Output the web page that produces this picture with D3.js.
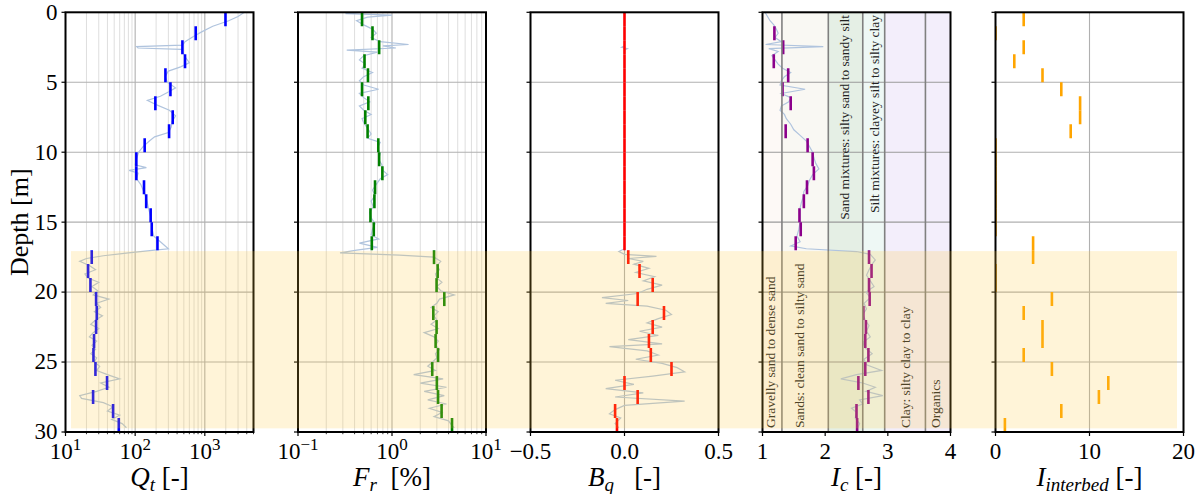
<!DOCTYPE html>
<html>
<head>
<meta charset="utf-8">
<script src="https://cdn.jsdelivr.net/npm/d3@7"></script>
<style>
  body { margin: 0; background: #fff; }
  text { font-family: "Liberation Serif", "DejaVu Serif", serif; fill: #000; }
</style>
</head>
<body>
<div id="chart"></div>
<script>
// depth of the top of every 1 m bin
const binTop = [0,1,2,3,4,5,6,7,8,9,10,11,12,13,14,15,16,17,18,19,20,21,22,23,24,25,26,27,28,29];

// per-meter averages
const qtMean = [1980,740,477,520,272,321,195,346,307,137,104,104,134,144,167,173,209,
  23.8,21.1,22.8,27.5,28.1,27.5,25.7,25.2,26.9,39.5,24.9,48.2,58.2];
const frMean = [0.48,0.62,0.73,0.51,0.555,0.48,0.56,0.52,0.55,0.715,0.73,0.79,0.66,0.65,0.59,0.64,0.61,
  2.8,3.06,2.98,3.6,2.75,2.98,2.91,3.09,2.68,3.0,3.09,3.37,4.35];
const bqMean = [0,0,0,0,0,0,0,0,0,0,0,0,0,0,0,0,0,
  0.02,0.08,0.15,0.07,0.21,0.15,0.13,0.14,0.25,0,0.07,-0.05,-0.04];
const icMean = [null,1.19,1.33,1.18,1.41,1.32,1.45,null,1.37,1.72,1.80,1.82,1.71,1.66,1.59,1.61,1.53,
  2.70,2.74,2.70,2.71,2.61,2.65,2.64,2.69,2.64,2.53,2.69,2.50,2.51];
const ibMean = [3,0,3,2,5,7,9,9,8,0,0,0,0,0,0,0,4,4,0,0,6,3,5,5,3,6,12,11,7,1];

// raw cone traces: [depth, value]
const qtRaw = [[0,3700],[0.3,3000],[0.6,2200],[1.0,1300],[1.4,900],[1.8,650],[2.1,520],[2.35,480],[2.45,105],
  [2.55,110],[2.65,460],[3.0,500],[3.3,540],[3.6,600],[3.9,450],[4.2,300],[4.6,270],[5.0,290],[5.4,380],[5.7,300],
  [6.0,230],[6.3,150],[6.6,200],[7.0,310],[7.4,380],[7.8,340],[8.2,330],[8.6,300],[8.9,190],[9.2,160],[9.6,130],
  [10.0,112],[10.5,104],[10.9,100],[11.1,145],[11.3,82],[11.5,110],[11.9,105],[12.3,120],[12.7,130],[13.1,140],
  [13.5,148],[14.0,155],[14.5,165],[15.0,172],[15.5,175],[16.0,185],[16.4,230],[16.7,270],[16.9,300],[17.0,190],
  [17.2,80],[17.4,35],[17.6,20],[17.8,16],[18.1,22],[18.4,27],[18.7,19],[19.0,21],[19.3,30],[19.6,24],[19.9,29],
  [20.2,25],[20.5,42],[20.8,28],[21.1,32],[21.4,26],[21.7,34],[22.0,27],[22.3,23],[22.6,30],[22.9,25],[23.2,22],
  [23.5,28],[23.8,24],[24.1,27],[24.4,23],[24.7,28],[25.0,26],[25.3,31],[25.6,28],[25.9,40],[26.2,60],[26.5,32],
  [26.8,42],[27.1,28],[27.4,16],[27.6,17],[27.9,35],[28.2,48],[28.5,40],[28.8,60],[29.1,46],[29.4,65],[29.7,75]];
const frRaw = [[0,0.45],[0.1,0.32],[0.2,1.0],[0.35,0.55],[0.6,0.42],[0.9,0.5],[1.2,0.62],[1.5,0.68],[1.8,0.6],
  [2.1,0.75],[2.3,1.5],[2.4,0.8],[2.55,1.1],[2.7,0.33],[2.85,0.7],[3.1,0.5],[3.4,0.45],[3.7,0.52],[4.0,0.48],
  [4.3,0.62],[4.6,0.5],[4.9,0.45],[5.2,0.5],[5.5,0.72],[5.8,0.45],[6.1,0.5],[6.4,0.58],[6.7,0.45],[7.0,0.5],
  [7.3,0.6],[7.6,0.48],[7.9,0.5],[8.3,0.55],[8.7,0.6],[9.0,0.55],[9.3,0.75],[9.7,0.7],[10.1,0.75],[10.5,0.72],
  [10.9,0.78],[11.3,0.8],[11.6,0.9],[11.9,0.75],[12.3,0.68],[12.7,0.62],[13.1,0.66],[13.5,0.6],[13.9,0.63],
  [14.3,0.58],[14.7,0.6],[15.1,0.66],[15.5,0.62],[15.9,0.6],[16.2,0.72],[16.5,0.45],[16.8,0.7],[17.0,0.42],
  [17.2,0.28],[17.35,1.2],[17.5,2.8],[17.8,3.3],[18.1,3.0],[18.4,3.2],[18.7,2.9],[19.0,3.0],[19.3,3.4],[19.6,3.0],
  [19.9,3.3],[20.2,4.6],[20.5,3.2],[20.8,3.0],[21.1,2.6],[21.4,3.1],[21.7,2.8],[22.0,3.0],[22.3,2.6],[22.6,3.1],
  [22.9,2.2],[23.2,2.8],[23.5,3.1],[23.8,2.9],[24.1,3.2],[24.4,2.9],[24.7,3.0],[25.0,2.7],[25.3,2.4],[25.6,2.9],
  [25.9,1.7],[26.2,3.5],[26.5,2.0],[26.8,3.8],[27.1,2.2],[27.4,3.6],[27.7,2.4],[28.0,3.8],[28.3,2.5],[28.6,3.4],
  [28.9,2.8],[29.2,4.0],[29.5,4.3],[29.7,4.6]];
const bqRaw = [[0,0],[2.4,0],[2.5,-0.015],[2.6,0.015],[2.7,0],[16.9,0],[17.1,-0.03],[17.3,0.0],[17.45,0.17],
  [17.6,0.02],[17.8,0.1],[18.0,0.05],[18.3,0.13],[18.6,0.06],[18.9,0.16],[19.2,0.1],[19.5,0.2],[19.8,0.12],
  [20.1,0.07],[20.4,-0.12],[20.6,0.02],[20.8,-0.1],[21.0,0.12],[21.3,0.22],[21.6,0.25],[21.9,0.18],[22.2,0.12],
  [22.5,0.2],[22.8,0.08],[23.1,0.18],[23.4,0.02],[23.7,0.2],[23.9,-0.08],[24.2,0.12],[24.5,0.18],[24.8,0.06],
  [25.1,0.2],[25.4,0.28],[25.7,0.32],[26.0,0.15],[26.3,-0.05],[26.6,0.05],[26.9,-0.1],[27.2,0.1],[27.5,-0.05],
  [27.8,0.32],[28.1,0.0],[28.4,-0.05],[28.7,-0.08],[29.0,-0.02],[29.4,-0.05],[29.7,-0.03]];
const icRaw = [[0,1.04],[0.3,1.08],[0.6,1.12],[0.9,1.18],[1.2,1.22],[1.5,1.25],[1.8,1.2],[2.1,1.3],[2.3,1.05],
  [2.45,1.97],[2.6,1.1],[2.8,1.25],[3.1,1.15],[3.4,1.2],[3.7,1.25],[4.0,1.32],[4.3,1.45],[4.6,1.35],[4.9,1.3],
  [5.2,1.28],[5.5,1.68],[5.8,1.3],[6.1,1.45],[6.4,1.42],[6.7,1.3],[7.0,1.28],[7.3,1.35],[7.6,1.38],[8.0,1.45],
  [8.4,1.5],[8.8,1.6],[9.2,1.7],[9.6,1.75],[10.0,1.8],[10.4,1.82],[10.8,1.85],[11.2,1.9],[11.6,1.8],[12.0,1.75],
  [12.4,1.72],[12.8,1.66],[13.2,1.65],[13.6,1.62],[14.0,1.6],[14.5,1.6],[15.0,1.6],[15.5,1.58],[16.0,1.55],
  [16.4,1.6],[16.7,1.45],[16.9,1.7],[17.1,2.5],[17.3,2.72],[17.7,2.8],[18.0,2.75],[18.4,2.7],[18.8,2.66],
  [19.2,2.72],[19.6,2.78],[20.0,2.65],[20.4,2.72],[20.8,2.62],[21.2,2.66],[21.6,2.6],[22.0,2.64],[22.4,2.7],
  [22.8,2.66],[23.2,2.72],[23.6,2.6],[24.0,2.64],[24.4,2.75],[24.8,2.62],[25.2,2.66],[25.6,2.9],[25.9,2.5],
  [26.2,2.25],[26.5,2.6],[26.8,2.8],[27.1,2.65],[27.4,2.92],[27.7,2.55],[28.0,2.6],[28.3,2.42],[28.6,2.5],
  [29.0,2.48],[29.4,2.55],[29.7,2.52]];

// soil behaviour type zones for Ic
const zoneEdges = [1, 1.31, 2.05, 2.6, 2.95, 3.6, 4];
const zoneColors = ['#fdf9f6', '#f9f8f3', '#e5efe5', '#eef8f5', '#f3eefb', '#f3eefb'];
const zoneLabels = ['Gravelly sand to dense sand', 'Sands: clean sand to silty sand',
  'Sand mixtures: silty sand to sandy silt', 'Silt mixtures: clayey silt to silty clay',
  'Clay: silty clay to clay', 'Organics'];

const depthTicks = [0, 5, 10, 15, 20, 25, 30];

const width = 1199;
const height = 494;
const plotTop = 12.3;
const plotBottom = 432;
const panelLeft = [65.5, 298, 530.5, 762.5, 995.5];
const panelW = 188;

const svg = d3.select('#chart').append('svg')
  .attr('width', width)
  .attr('height', height);

const y = d3.scaleLinear().domain([0, 30]).range([plotTop, plotBottom]);

const nb = '\u00a0';
const panels = [
  {log: true, domain: [10, 5000], raw: qtRaw, mean: qtMean, color: '#0000ff',
   ticks: [10, 100, 1000], label: ['Q', 't', nb + '[-]']},
  {log: true, domain: [0.1, 10], raw: frRaw, mean: frMean, color: '#008000',
   ticks: [0.1, 1, 10], label: ['F', 'r', nb + nb + '[%]']},
  {log: false, domain: [-0.5, 0.5], raw: bqRaw, mean: bqMean, color: '#ff0000',
   ticks: [-0.5, 0, 0.5], grid: [0], fmt: d => d3.format('.1f')(d).replace('-', '\u2212'),
   label: ['B', 'q', nb + nb + nb + '[-]']},
  {log: false, domain: [1, 4], raw: icRaw, mean: icMean, color: '#8b008b',
   ticks: [1, 2, 3, 4], grid: [], fmt: d => d, label: ['I', 'c', nb + '[-]']},
  {log: false, domain: [0, 20], raw: null, mean: ibMean, color: '#ffa500',
   ticks: [0, 10, 20], grid: [10], fmt: d => d, label: ['I', 'interbed', nb + '[-]']}
];

panels.forEach(drawPanel);

function drawPanel(p, i) {
  const x0 = panelLeft[i];
  const x = (p.log ? d3.scaleLog() : d3.scaleLinear())
    .domain(p.domain)
    .range([x0, x0 + panelW]);

  svg.append('clipPath').attr('id', 'clip' + i)
    .append('rect')
    .attr('x', x0).attr('y', plotTop)
    .attr('width', panelW).attr('height', plotBottom - plotTop);

  const g = svg.append('g').attr('clip-path', `url(#clip${i})`);

  // Ic zones background
  if (i === 3) {
    g.selectAll('.zone')
      .data(zoneColors)
      .enter()
      .append('rect')
      .attr('x', (d, k) => x(zoneEdges[k]))
      .attr('width', (d, k) => x(zoneEdges[k + 1]) - x(zoneEdges[k]))
      .attr('y', plotTop)
      .attr('height', plotBottom - plotTop)
      .attr('fill', d => d);
  }

  // vertical grid
  let minor = [];
  let major = [];
  if (p.log) {
    const lo = Math.round(Math.log10(p.domain[0]));
    const hi = Math.ceil(Math.log10(p.domain[1]));
    for (let e = lo; e < hi; e++) {
      for (let k = 1; k <= 9; k++) {
        const v = k * Math.pow(10, e);
        if (v > p.domain[1] + 1e-9) continue;
        if (k === 1) major.push(v); else minor.push(v);
      }
    }
  } else {
    major = p.grid;
  }
  g.selectAll('.minor')
    .data(minor)
    .enter()
    .append('line')
    .attr('x1', d => x(d)).attr('x2', d => x(d))
    .attr('y1', plotTop).attr('y2', plotBottom)
    .attr('stroke', '#dadada').attr('stroke-width', 0.9);
  g.selectAll('.major')
    .data(major)
    .enter()
    .append('line')
    .attr('x1', d => x(d)).attr('x2', d => x(d))
    .attr('y1', plotTop).attr('y2', plotBottom)
    .attr('stroke', '#b0b0b0').attr('stroke-width', 1.1);

  // horizontal grid
  g.selectAll('.hgrid')
    .data(depthTicks)
    .enter()
    .append('line')
    .attr('x1', x0).attr('x2', x0 + panelW)
    .attr('y1', d => y(d)).attr('y2', d => y(d))
    .attr('stroke', i === 3 ? '#9a9a9a' : '#b0b0b0').attr('stroke-width', 1.1);

  // raw trace
  if (p.raw) {
    const line = d3.line()
      .x(d => x(d[1]))
      .y(d => y(d[0]));
    g.append('path')
      .attr('d', line(p.raw))
      .attr('fill', 'none')
      .attr('stroke', '#b0c4de')
      .attr('stroke-width', 1.2);
  }

  // 1 m averages
  const segs = binTop.map((d, k) => ({top: d, v: p.mean[k]})).filter(d => d.v !== null);
  g.selectAll('.seg')
    .data(segs)
    .enter()
    .append('line')
    .attr('x1', d => x(d.v)).attr('x2', d => x(d.v))
    .attr('y1', d => y(d.top)).attr('y2', d => y(d.top + 1))
    .attr('stroke', p.color)
    .attr('stroke-width', 2.6);

  // Ic zone boundaries and labels
  if (i === 3) {
    g.selectAll('.edge')
      .data(zoneEdges.slice(1, -1))
      .enter()
      .append('line')
      .attr('x1', d => x(d)).attr('x2', d => x(d))
      .attr('y1', plotTop).attr('y2', plotBottom)
      .attr('stroke', '#808080').attr('stroke-width', 1.6);

    const labelPos = [
      {x: 775, y: 428, anchor: 'start'},
      {x: 803.5, y: 428, anchor: 'start'},
      {x: 849, y: 15, anchor: 'end'},
      {x: 878.5, y: 15, anchor: 'end'},
      {x: 910, y: 428, anchor: 'start'},
      {x: 940, y: 428, anchor: 'start'}
    ];
    svg.selectAll('.zlabel')
      .data(zoneLabels)
      .enter()
      .append('text')
      .attr('transform', (d, k) => `translate(${labelPos[k].x},${labelPos[k].y}) rotate(-90)`)
      .attr('text-anchor', (d, k) => labelPos[k].anchor)
      .style('font-size', '13.5px')
      .style('fill', '#222')
      .text(d => d);
  }

  // spines
  svg.append('rect')
    .attr('x', x0).attr('y', plotTop)
    .attr('width', panelW).attr('height', plotBottom - plotTop)
    .attr('fill', 'none')
    .attr('stroke', '#000')
    .attr('stroke-width', 2);

  // y ticks
  svg.selectAll(null)
    .data(depthTicks)
    .enter()
    .append('line')
    .attr('x1', x0 - 4).attr('x2', x0)
    .attr('y1', d => y(d)).attr('y2', d => y(d))
    .attr('stroke', '#000').attr('stroke-width', 1.2);

  if (i === 0) {
    svg.selectAll(null)
      .data(depthTicks)
      .enter()
      .append('text')
      .attr('x', x0 - 8)
      .attr('y', d => y(d))
      .attr('dy', '0.32em')
      .attr('text-anchor', 'end')
      .style('font-size', '23px')
      .text(d => d);
    svg.append('text')
      .attr('transform', `translate(28,${(plotTop + plotBottom) / 2}) rotate(-90)`)
      .attr('text-anchor', 'middle')
      .style('font-size', '26px')
      .text('Depth [m]');
  }

  // x ticks
  svg.selectAll(null)
    .data(p.ticks)
    .enter()
    .append('line')
    .attr('x1', d => x(d)).attr('x2', d => x(d))
    .attr('y1', plotBottom).attr('y2', plotBottom + 4)
    .attr('stroke', '#000').attr('stroke-width', 1.2);
  if (p.log) {
    svg.selectAll(null)
      .data(minor)
      .enter()
      .append('line')
      .attr('x1', d => x(d)).attr('x2', d => x(d))
      .attr('y1', plotBottom).attr('y2', plotBottom + 2.2)
      .attr('stroke', '#000').attr('stroke-width', 0.8);
    const t = svg.selectAll(null)
      .data(p.ticks)
      .enter()
      .append('text')
      .attr('x', d => x(d))
      .attr('y', 459)
      .attr('text-anchor', 'middle')
      .style('font-size', '23px');
    t.append('tspan').text('10');
    t.append('tspan')
      .attr('dy', -9)
      .style('font-size', '17px')
      .text(d => String(Math.round(Math.log10(d))).replace('-', '\u2212'));
  } else {
    svg.selectAll(null)
      .data(p.ticks)
      .enter()
      .append('text')
      .attr('x', d => x(d))
      .attr('y', 459)
      .attr('text-anchor', 'middle')
      .style('font-size', '23px')
      .text(p.fmt);
  }

  // axis label
  const lab = svg.append('text')
    .attr('x', x0 + panelW / 2)
    .attr('y', 486)
    .attr('text-anchor', 'middle')
    .style('font-size', '27px');
  lab.append('tspan').style('font-style', 'italic').text(p.label[0]);
  lab.append('tspan').style('font-style', 'italic').style('font-size', '19px')
    .attr('dy', 5).text(p.label[1]);
  lab.append('tspan').attr('dy', -5).text(p.label[2]);
}

// stiff clay layer highlight across the figure
svg.append('rect')
  .attr('x', 71)
  .attr('y', y(17.07))
  .attr('width', 1177 - 71)
  .attr('height', y(29.74) - y(17.07))
  .attr('fill', 'rgb(255,200,60)')
  .attr('opacity', 0.2);
</script>
</body>
</html>
